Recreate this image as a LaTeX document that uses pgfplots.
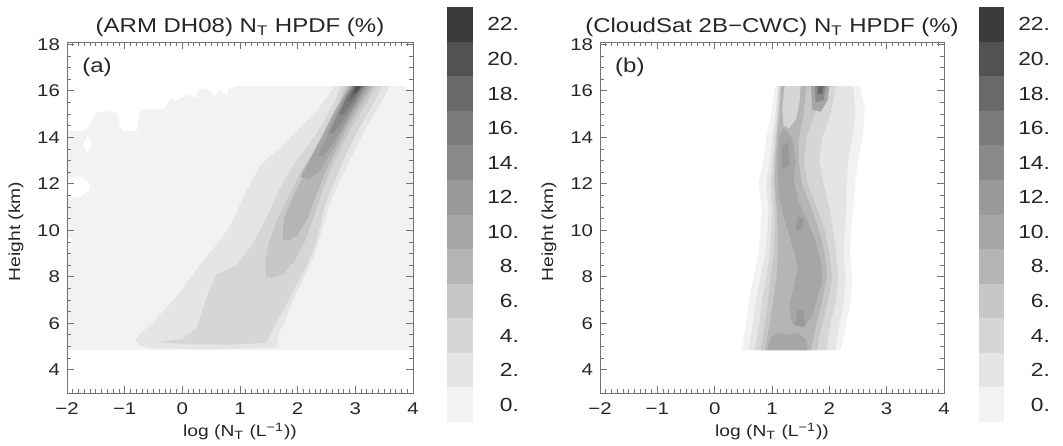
\documentclass[border=0pt]{standalone}
\usepackage{fontspec}
\setmainfont{Liberation Sans}[FakeStretch=1.2]
\usepackage{pgfplots}
\pgfplotsset{compat=1.18}

% contour levels 0,2,...,22 (%)
\definecolor{c0}{gray}{0.95}
\definecolor{c1}{gray}{0.90}
\definecolor{c2}{gray}{0.84}
\definecolor{c3}{gray}{0.78}
\definecolor{c4}{gray}{0.71}
\definecolor{c5}{gray}{0.65}
\definecolor{c6}{gray}{0.60}
\definecolor{c7}{gray}{0.54}
\definecolor{c8}{gray}{0.48}
\definecolor{c9}{gray}{0.41}
\definecolor{c10}{gray}{0.32}
\definecolor{c11}{gray}{0.23}

\newcommand{\tickfont}{\fontsize{8.5}{10}\selectfont}
\newcommand{\labfont}{\fontsize{8}{10}\selectfont}
\newcommand{\titlefont}{\fontsize{10}{12}\selectfont}
\newcommand{\cbfont}{\fontsize{9.5}{11}\selectfont}

\pgfplotsset{
  hpdf/.style={
    scale only axis, width=173pt, height=175.5pt,
    xmin=-2, xmax=4, ymin=3, ymax=18.1,
    enlargelimits=false,
    xtick={-2,...,4}, xticklabels={−2,−1,0,1,2,3,4},
    ytick={4,6,...,18},
    minor x tick num=9, minor y tick num=3,
    tick align=inside,
    major tick length=3.5pt, minor tick length=1.8pt,
    axis line style={black!55},
    every tick/.style={black!55, line width=0.4pt},
    axis on top,
    ticklabel style={font=\tickfont, text=black!85},
    xticklabel style={yshift=-1.5pt},
    label style={font=\labfont, text=black!85},
    xlabel style={yshift=3pt},
    ylabel style={at={(ticklabel cs:0.46)}},
    title style={font=\titlefont, text=black!85, yshift=-7pt},
    xlabel={log (N\textsubscript{T} (L\textsuperscript{−1}))},
    ylabel={Height (km)},
    /pgf/number format/assume math mode=true,
  },
  lv/.style={fill=c#1, draw=none, forget plot},
  cbar/.style={
    scale only axis, width=13pt, height=207.5pt,
    xmin=0, xmax=1, ymin=0, ymax=24, enlargelimits=false,
    axis line style={draw=none}, xtick=\empty,
    ytick={1,3,...,23},
    yticklabels={0.,2.,4.,6.,8.,10.,12.,14.,16.,18.,20.,22.},
    yticklabel pos=right, major tick length=0pt,
    yticklabel style={anchor=east, xshift=26.5pt, font=\cbfont, text=black!85},
  },
}

\begin{document}
\begin{tikzpicture}
\path[use as bounding box] (0,0) rectangle (531.5pt,222.5pt);

% ---------- (a) ARM DH08 ----------
\begin{axis}[hpdf, at={(33.5pt,26pt)}, anchor=south west,
  title={(ARM DH08) N\textsubscript{T} HPDF (\%)}]
\addplot[lv=0] coordinates {(-2,4.85) (4,4.85) (4,15.95) (3.85,16.2) (0.95,16.2)
  (0.82,16.1) (0.76,15.77) (0.65,16.1) (0.56,15.77) (0.445,16.06) (0.30,16.13)
  (0.24,15.7) (0.07,15.84) (-0.10,15.56) (-0.19,15.7) (-0.30,15.27) (-0.45,15.2)
  (-0.67,15.2) (-0.74,15.05) (-0.79,14.27) (-1.05,14.27) (-1.14,15.05) (-1.31,15.13)
  (-1.49,15.05) (-1.63,14.41) (-1.72,14.27) (-2,14.27)} --cycle;
\addplot[fill=white, draw=none] coordinates {(-1.645,14.07) (-1.57,13.7) (-1.645,13.33) (-1.72,13.7)} --cycle;
\addplot[fill=white, draw=none] coordinates {(-2,12.3) (-1.75,12.3) (-1.6,12.0) (-1.62,11.7) (-1.75,11.45) (-2,11.4)} --cycle;
\addplot[fill=white, draw=none] coordinates {(-2,9.7) (-1.9,9.6) (-1.92,9.3) (-2,9.2)} --cycle;
\addplot[lv=1] coordinates {(-0.82,5.3) (-0.55,5.95) (-0.27,6.65) (0.0,7.5) (0.3,8.5)
  (0.6,9.4) (0.85,10.25) (1.05,11.4) (1.35,12.8) (1.7,13.55) (2.03,14.4) (2.32,15.1)
  (2.55,15.85) (2.65,16.2) (3.6,16.2) (3.42,15.4) (3.18,14.4) (2.95,13.25) (2.72,12.1)
  (2.55,11.1) (2.43,10.1) (2.3,9.0) (2.12,8.0) (1.92,7.0) (1.8,6.2) (1.68,5.6)
  (1.63,4.95) (0.5,4.88) (-0.5,4.92) (-0.75,5.05)} --cycle;
\addplot[lv=2] coordinates {(-0.42,5.2) (0.0,5.32) (0.24,5.75) (0.42,7.1) (0.59,8.1)
  (0.94,8.5) (1.22,9.4) (1.455,10.5) (1.685,11.8) (1.97,12.97) (2.32,14.12)
  (2.49,14.84) (2.67,15.7) (2.75,16.2) (3.47,16.2) (3.30,15.41) (3.07,14.41)
  (2.84,13.26) (2.64,12.12) (2.46,10.97) (2.38,10.11) (2.29,9.25) (2.12,8.3)
  (1.88,7.2) (1.72,6.4) (1.55,5.7) (1.45,5.15) (0.8,5.08) (0.0,5.1)} --cycle;
\addplot[lv=3] coordinates {(1.45,8.0) (1.43,8.6) (1.5,9.5) (1.65,10.5) (1.85,11.5)
  (2.05,12.5) (2.3,13.5) (2.5,14.5) (2.7,15.4) (2.82,16.2) (3.35,16.2) (3.2,15.5)
  (2.95,14.5) (2.75,13.5) (2.55,12.5) (2.4,11.5) (2.27,10.5) (2.12,9.5) (1.95,8.7)
  (1.75,8.1) (1.55,7.95)} --cycle;
\addplot[lv=4] coordinates {(1.74,9.6) (1.76,10.5) (1.93,11.5) (2.13,12.5) (2.38,13.5)
  (2.58,14.5) (2.78,15.4) (2.88,16.2) (3.3,16.2) (3.12,15.5) (2.88,14.5) (2.68,13.5)
  (2.48,12.5) (2.32,11.5) (2.17,10.5) (2.0,9.8) (1.85,9.55)} --cycle;
\addplot[lv=5] coordinates {(2.05,12.3) (2.2,13) (2.42,14) (2.62,15) (2.8,15.8) (2.9,16.2)
  (3.25,16.2) (3.07,15.5) (2.85,14.6) (2.62,13.5) (2.4,12.6) (2.2,12.2)} --cycle;
\addplot[lv=6] coordinates {(2.35,13.2) (2.5,14) (2.67,15) (2.83,15.8) (2.93,16.2) (3.2,16.2)
  (3.02,15.5) (2.8,14.5) (2.57,13.6) (2.45,13.2)} --cycle;
\addplot[lv=7] coordinates {(2.55,14.2) (2.7,15) (2.86,15.8) (2.95,16.2) (3.17,16.2)
  (2.98,15.4) (2.75,14.6) (2.62,14.2)} --cycle;
\addplot[lv=8] coordinates {(2.72,15.0) (2.86,15.8) (2.97,16.2) (3.14,16.2) (2.95,15.5) (2.8,15.0)} --cycle;
\addplot[lv=9] coordinates {(2.86,15.5) (2.99,16.2) (3.12,16.2) (2.98,15.75)} --cycle;
\addplot[lv=10] coordinates {(2.95,15.85) (3.01,16.2) (3.1,16.2) (3.02,15.95)} --cycle;
\node[anchor=north west, inner sep=0pt, font=\fontsize{10}{12}\selectfont, text=black!85]
  at (rel axis cs:0.043,0.955) {(a)};
\end{axis}

\begin{axis}[cbar, at={(223.5pt,11.5pt)}, anchor=south west]
\addplot[lv=0] coordinates {(0,0) (1,0) (1,2) (0,2)} --cycle;
\addplot[lv=1] coordinates {(0,2) (1,2) (1,4) (0,4)} --cycle;
\addplot[lv=2] coordinates {(0,4) (1,4) (1,6) (0,6)} --cycle;
\addplot[lv=3] coordinates {(0,6) (1,6) (1,8) (0,8)} --cycle;
\addplot[lv=4] coordinates {(0,8) (1,8) (1,10) (0,10)} --cycle;
\addplot[lv=5] coordinates {(0,10) (1,10) (1,12) (0,12)} --cycle;
\addplot[lv=6] coordinates {(0,12) (1,12) (1,14) (0,14)} --cycle;
\addplot[lv=7] coordinates {(0,14) (1,14) (1,16) (0,16)} --cycle;
\addplot[lv=8] coordinates {(0,16) (1,16) (1,18) (0,18)} --cycle;
\addplot[lv=9] coordinates {(0,18) (1,18) (1,20) (0,20)} --cycle;
\addplot[lv=10] coordinates {(0,20) (1,20) (1,22) (0,22)} --cycle;
\addplot[lv=11] coordinates {(0,22) (1,22) (1,24) (0,24)} --cycle;
\end{axis}

% ---------- (b) CloudSat 2B-CWC ----------
\begin{axis}[hpdf, at={(300pt,26pt)}, anchor=south west, width=172pt,
  title={(CloudSat 2B−CWC) N\textsubscript{T} HPDF (\%)}]
\addplot[lv=0] coordinates {(0.47,4.85) (0.55,6) (0.6,7) (0.68,8) (0.76,9) (0.8,10)
  (0.82,11) (0.76,12) (0.85,13) (0.9,14) (0.98,15) (1.05,16.2) (2.53,16.2) (2.62,15.2)
  (2.58,14) (2.5,13) (2.45,12) (2.42,11) (2.38,10) (2.36,9) (2.4,8) (2.38,7) (2.3,6)
  (2.2,4.85)} --cycle;
\addplot[lv=1] coordinates {(0.59,4.85) (0.67,6) (0.72,7) (0.8,8) (0.88,9) (0.92,10)
  (0.94,11) (0.9,12) (0.96,13) (1.0,14) (1.06,15) (1.1,16.2) (2.42,16.2) (2.45,15)
  (2.4,14) (2.33,13) (2.3,12) (2.3,11) (2.27,10) (2.25,9) (2.28,8) (2.26,7) (2.18,6)
  (2.1,4.85)} --cycle;
\addplot[lv=2] coordinates {(0.7,4.85) (0.78,6) (0.83,7) (0.9,8) (0.96,9) (0.99,10)
  (1.0,11) (0.97,12) (1.01,13) (1.04,14) (1.09,15) (1.12,16.2) (2.12,16.2) (2.02,15)
  (1.88,14) (1.82,13) (1.9,12) (2.0,11) (2.07,10) (2.12,9) (2.15,8) (2.12,7) (2.02,6)
  (1.95,4.85)} --cycle;
\addplot[lv=3] coordinates {(0.8,4.85) (0.88,6) (0.93,7) (0.98,8) (1.03,9) (1.05,10)
  (1.05,11) (1.02,12) (1.04,13) (1.07,14) (1.11,15) (1.14,16.2) (1.95,16.2) (1.75,15)
  (1.6,14) (1.56,13) (1.62,12) (1.78,11) (1.92,10) (2.0,9) (2.05,8) (1.98,7) (1.88,6)
  (1.78,4.85)} --cycle;
\addplot[lv=4] coordinates {(0.88,4.85) (0.96,6) (1.02,7) (1.08,8) (1.1,9) (1.1,10)
  (1.08,11) (1.05,12) (1.06,13) (1.09,14) (1.13,15) (1.16,16.2) (1.6,16.2) (1.55,15)
  (1.47,14) (1.47,13) (1.52,12) (1.68,11) (1.82,10) (1.92,9) (1.96,8) (1.88,7) (1.78,6)
  (1.68,4.85)} --cycle;
\addplot[lv=5] coordinates {(0.92,4.85) (0.98,5.4) (1.1,5.6) (1.25,5.5) (1.45,5.6) (1.6,5.3)
  (1.62,4.85)} --cycle;
\addplot[lv=5] coordinates {(1.35,6.0) (1.3,6.8) (1.38,7.6) (1.45,8.3) (1.4,9.0) (1.3,9.8)
  (1.2,10.6) (1.12,11.5) (1.1,12.3) (1.1,13.2) (1.13,14.0) (1.2,14.4) (1.35,14.0)
  (1.42,13.0) (1.38,12.2) (1.45,11.3) (1.6,10.5) (1.75,9.6) (1.85,8.7) (1.88,7.8)
  (1.78,7.0) (1.7,6.3) (1.55,5.8)} --cycle;
\addplot[lv=6] coordinates {(1.4,5.9) (1.45,6.6) (1.55,6.5) (1.58,5.9)} --cycle;
\addplot[lv=6] coordinates {(1.42,10.0) (1.45,10.6) (1.55,10.5) (1.52,10.0)} --cycle;
\addplot[lv=6] coordinates {(1.17,12.6) (1.17,13.6) (1.28,13.8) (1.3,12.8)} --cycle;
\addplot[lv=2] coordinates {(1.2,14.5) (1.18,15.2) (1.22,16.2) (1.5,16.2) (1.48,15.5)
  (1.42,14.8) (1.3,14.4)} --cycle;
\addplot[lv=5] coordinates {(1.7,15.2) (1.68,16.2) (2.0,16.2) (1.97,15.6) (1.85,15.1)} --cycle;
\addplot[lv=7] coordinates {(1.76,15.5) (1.75,16.2) (1.94,16.2) (1.9,15.6)} --cycle;
\addplot[lv=9] coordinates {(1.8,15.85) (1.8,16.2) (1.9,16.2) (1.88,15.9)} --cycle;
\node[anchor=north west, inner sep=0pt, font=\fontsize{10}{12}\selectfont, text=black!85]
  at (rel axis cs:0.043,0.955) {(b)};
\end{axis}

\begin{axis}[cbar, at={(489.5pt,11.5pt)}, anchor=south west, width=12.5pt]
\addplot[lv=0] coordinates {(0,0) (1,0) (1,2) (0,2)} --cycle;
\addplot[lv=1] coordinates {(0,2) (1,2) (1,4) (0,4)} --cycle;
\addplot[lv=2] coordinates {(0,4) (1,4) (1,6) (0,6)} --cycle;
\addplot[lv=3] coordinates {(0,6) (1,6) (1,8) (0,8)} --cycle;
\addplot[lv=4] coordinates {(0,8) (1,8) (1,10) (0,10)} --cycle;
\addplot[lv=5] coordinates {(0,10) (1,10) (1,12) (0,12)} --cycle;
\addplot[lv=6] coordinates {(0,12) (1,12) (1,14) (0,14)} --cycle;
\addplot[lv=7] coordinates {(0,14) (1,14) (1,16) (0,16)} --cycle;
\addplot[lv=8] coordinates {(0,16) (1,16) (1,18) (0,18)} --cycle;
\addplot[lv=9] coordinates {(0,18) (1,18) (1,20) (0,20)} --cycle;
\addplot[lv=10] coordinates {(0,20) (1,20) (1,22) (0,22)} --cycle;
\addplot[lv=11] coordinates {(0,22) (1,22) (1,24) (0,24)} --cycle;
\end{axis}
\end{tikzpicture}
\end{document}
